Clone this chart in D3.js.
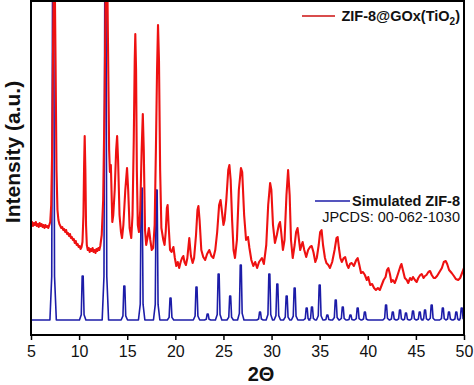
<!DOCTYPE html>
<html>
<head>
<meta charset="utf-8">
<script src="https://cdn.jsdelivr.net/npm/d3@7"></script>
<style>
  body { margin: 0; background: #fff; }
  text { font-family: Arial, "Liberation Sans", sans-serif; }
</style>
</head>
<body>
<div id="chart"></div>
<script>
// x ticks (2 theta, degrees)
var xTicks = [5, 10, 15, 20, 25, 30, 35, 40, 45, 50];

// measured pattern, ZIF-8@GOx(TiO2): [2theta, intensity a.u.]
var redPattern = [
  [5.00,111],[5.10,113],[5.20,109],[5.30,112],[5.40,110],[5.50,113],[5.60,109],[5.70,111],
  [5.80,108],[5.90,112],[6.00,109],[6.10,111],[6.20,108],[6.30,110],[6.40,107],[6.50,110],
  [6.60,108],[6.70,109],[6.80,107],[6.90,110],[7.00,113],[7.10,130],[7.20,185],[7.30,295],
  [7.38,365],[7.46,365],[7.55,275],[7.65,165],[7.75,125],[7.85,115],[7.95,111],[8.05,109],
  [8.15,107],[8.25,108],[8.35,105],[8.45,106],[8.55,103],[8.65,105],[8.75,101],[8.85,102],
  [8.95,99],[9.05,101],[9.15,97],[9.25,98],[9.35,95],[9.45,96],[9.55,92],[9.65,94],
  [9.75,90],[9.85,91],[9.95,88],[10.05,89],[10.15,86],[10.25,88],[10.35,93],[10.45,120],
  [10.52,170],[10.58,199],[10.65,165],[10.72,110],[10.80,90],[10.90,85],[11.00,87],[11.10,83],
  [11.20,86],[11.30,84],[11.40,87],[11.50,83],[11.60,85],[11.70,82],[11.80,86],[11.90,84],
  [12.00,87],[12.10,85],[12.20,89],[12.35,100],[12.50,135],[12.65,235],[12.78,365],[12.92,365],
  [13.02,275],[13.12,185],[13.20,163],[13.30,170],[13.38,140],[13.45,113],[13.55,120],[13.70,145],
  [13.85,185],[13.95,199],[14.05,175],[14.20,120],[14.35,103],[14.46,97],[14.60,110],[14.80,145],
  [14.98,167],[15.10,145],[15.25,107],[15.42,97],[15.55,120],[15.68,195],[15.78,275],[15.84,301],
  [15.92,265],[16.00,165],[16.10,110],[16.22,103],[16.35,125],[16.50,185],[16.62,221],[16.72,185],
  [16.85,105],[16.97,90],[17.10,97],[17.25,107],[17.40,95],[17.55,85],[17.70,87],[17.85,110],
  [17.98,185],[18.10,265],[18.20,310],[18.30,275],[18.42,165],[18.55,107],[18.75,95],[18.88,90],
  [19.00,103],[19.12,127],[19.20,130],[19.30,110],[19.45,85],[19.60,83],[19.80,88],[19.95,77],
  [20.10,69],[20.25,73],[20.40,67],[20.55,73],[20.70,77],[20.83,79],[20.95,73],[21.10,70],
  [21.25,77],[21.45,97],[21.62,79],[21.80,72],[21.95,77],[22.15,100],[22.30,125],[22.40,129],
  [22.52,115],[22.70,85],[22.90,78],[23.10,75],[23.30,81],[23.53,85],[23.75,79],[23.95,77],
  [24.15,85],[24.35,103],[24.55,130],[24.70,135],[24.85,123],[25.00,110],[25.12,115],[25.30,135],
  [25.50,165],[25.62,170],[25.75,155],[25.90,115],[26.05,85],[26.20,77],[26.40,95],[26.60,145],
  [26.82,167],[26.95,163],[27.15,120],[27.35,95],[27.55,98],[27.70,87],[27.90,75],[28.10,69],
  [28.30,73],[28.50,67],[28.70,73],[29.00,77],[29.20,71],[29.45,90],[29.65,130],[29.85,152],
  [29.98,145],[30.15,110],[30.35,92],[30.55,100],[30.75,110],[30.88,113],[31.00,103],[31.18,85],
  [31.35,95],[31.55,140],[31.72,165],[31.88,140],[32.02,95],[32.20,77],[32.40,90],[32.55,103],
  [32.70,107],[32.85,95],[32.98,85],[33.12,90],[33.23,93],[33.40,85],[33.60,78],[33.80,85],
  [34.00,88],[34.17,89],[34.35,83],[34.55,73],[34.70,77],[34.90,90],[35.05,103],[35.20,105],
  [35.35,90],[35.55,77],[35.70,72],[35.90,70],[36.07,67],[36.30,73],[36.55,85],[36.75,97],
  [36.87,98],[37.00,87],[37.15,77],[37.30,73],[37.50,77],[37.65,78],[37.85,70],[38.00,67],
  [38.15,71],[38.33,72],[38.55,69],[38.80,75],[38.95,77],[39.10,71],[39.30,62],[39.50,63],
  [39.70,60],[39.90,55],[40.05,58],[40.25,50],[40.45,51],[40.65,47],[40.85,45],[41.05,47],
  [41.25,45],[41.45,50],[41.65,55],[41.85,58],[42.00,65],[42.14,67],[42.30,61],[42.45,53],
  [42.60,55],[42.80,52],[43.00,57],[43.20,63],[43.40,69],[43.50,71],[43.65,65],[43.85,57],
  [44.05,55],[44.20,52],[44.40,57],[44.55,55],[44.70,58],[44.90,55],[45.08,53],[45.25,57],
  [45.45,60],[45.60,61],[45.80,57],[45.95,59],[46.10,60],[46.30,63],[46.47,64],[46.65,60],
  [46.85,57],[47.00,57],[47.20,59],[47.45,63],[47.70,67],[47.90,73],[48.10,74],[48.25,71],
  [48.45,65],[48.72,62],[48.95,59],[49.15,56],[49.40,55],[49.60,57],[49.80,62],[50.00,67]
];

// simulated ZIF-8 peaks: [2theta, intensity a.u.]
var simBaseline = 15;
var simPeaks = [
  [7.30,380],[10.37,59],[12.73,380],[14.70,49],[16.50,147],[18.06,145],[19.50,37],[22.20,48],
  [23.36,21],[24.50,61],[25.70,39],[26.80,70],[28.80,23],[29.77,61],[30.60,51],[31.57,39],
  [32.40,47],[33.65,27],[34.20,28],[35.00,50],[35.80,20],[36.67,35],[37.40,28],[38.20,20],
  [38.95,27],[39.70,23],[41.90,30],[42.60,23],[43.35,25],[43.97,22],[44.70,24],[45.40,23],
  [45.95,25],[46.64,30],[47.80,27],[48.44,23],[49.20,23],[49.76,27]
];

var svgWidth = 474;
var svgHeight = 385;
var margin = { top: 1, right: 10, bottom: 50, left: 31 };
var chartWidth = svgWidth - margin.left - margin.right;
var chartHeight = svgHeight - margin.top - margin.bottom;

var svg = d3.select("#chart")
  .append("svg")
  .attr("width", svgWidth)
  .attr("height", svgHeight);

var chartGroup = svg.append("g")
  .attr("transform", `translate(${margin.left}, ${margin.top})`);

var xScale = d3.scaleLinear().domain([5, 50]).range([0, chartWidth]);
var yScale = d3.scaleLinear().domain([0, 334]).range([chartHeight, 0]);

chartGroup.append("clipPath").attr("id", "plotclip")
  .append("rect").attr("width", chartWidth).attr("height", chartHeight);

var plot = chartGroup.append("g").attr("clip-path", "url(#plotclip)");

// simulated pattern: narrow peaks on a flat baseline
var simLine = [[xScale(5), yScale(simBaseline)]];
simPeaks.forEach(function(p) {
  var cx = xScale(p[0]);
  var yb = yScale(simBaseline);
  var yt = yScale(p[1]);
  var ym = yScale(simBaseline + (p[1] - simBaseline) * 0.12);
  simLine.push([cx - 3.2, yb], [cx - 1.4, ym], [cx - 0.5, yt], [cx + 0.5, yt], [cx + 1.4, ym], [cx + 3.2, yb]);
});
simLine.push([xScale(50), yScale(simBaseline)]);

plot.append("path")
  .attr("d", d3.line()(simLine))
  .attr("fill", "none")
  .attr("stroke", "#1c1ca8")
  .attr("stroke-width", 1.6)
  .attr("stroke-linejoin", "round");

plot.append("path")
  .datum(redPattern)
  .attr("d", d3.line().x(d => xScale(d[0])).y(d => yScale(d[1])))
  .attr("fill", "none")
  .attr("stroke", "#ee1111")
  .attr("stroke-width", 2.1)
  .attr("stroke-linejoin", "round");

// bottom axis
var bottomAxis = d3.axisBottom(xScale).tickValues(xTicks).tickSize(5).tickPadding(6);
var xAxisG = chartGroup.append("g")
  .attr("transform", `translate(0, ${chartHeight})`)
  .call(bottomAxis);
xAxisG.select(".domain").remove();
xAxisG.selectAll("line").attr("stroke", "#000").attr("stroke-width", 1.5);
xAxisG.selectAll("text")
  .attr("fill", "#111")
  .style("font-size", "16px")
  .style("font-family", "Arial, 'Liberation Sans', sans-serif");

// frame
chartGroup.append("rect")
  .attr("width", chartWidth)
  .attr("height", chartHeight)
  .attr("fill", "none")
  .attr("stroke", "#000")
  .attr("stroke-width", 2);

// legend
svg.append("line")
  .attr("x1", 302).attr("x2", 335).attr("y1", 16).attr("y2", 16)
  .attr("stroke", "#cc1010").attr("stroke-width", 1.6);
var leg1 = svg.append("text")
  .attr("x", 460).attr("y", 21)
  .attr("text-anchor", "end")
  .style("font-size", "14.5px").style("font-weight", "bold").attr("fill", "#111");
leg1.append("tspan").text("ZIF-8@GOx(TiO");
leg1.append("tspan").attr("dy", 4).style("font-size", "10px").text("2");
leg1.append("tspan").attr("dy", -4).text(")");

svg.append("line")
  .attr("x1", 315).attr("x2", 350).attr("y1", 201).attr("y2", 201)
  .attr("stroke", "#1c1ca8").attr("stroke-width", 1.6);
svg.append("text")
  .attr("x", 460).attr("y", 206)
  .attr("text-anchor", "end")
  .style("font-size", "14.5px").style("font-weight", "bold").attr("fill", "#111")
  .text("Simulated ZIF-8");
svg.append("text")
  .attr("x", 460).attr("y", 222)
  .attr("text-anchor", "end")
  .style("font-size", "14.5px").attr("fill", "#111")
  .text("JPCDS: 00-062-1030");

// axis titles
svg.append("text")
  .attr("transform", "translate(20, 152) rotate(-90)")
  .attr("text-anchor", "middle")
  .style("font-size", "21px").style("font-weight", "bold").attr("fill", "#111")
  .text("Intensity (a.u.)");

svg.append("text")
  .attr("x", 261).attr("y", 381)
  .attr("text-anchor", "middle")
  .style("font-size", "20px").style("font-weight", "bold").attr("fill", "#111")
  .text("2\u0398");
</script>
</body>
</html>
